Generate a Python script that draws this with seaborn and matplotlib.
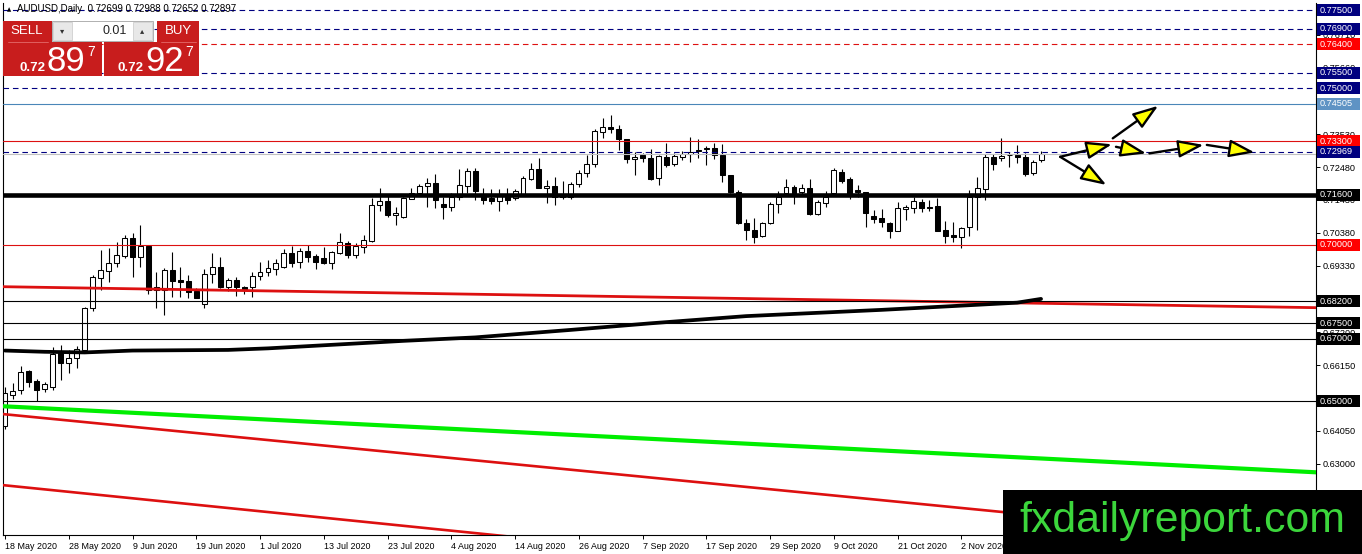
import numpy as np
import pandas as pd
import matplotlib
matplotlib.use("Agg")
import matplotlib.pyplot as plt
import matplotlib.transforms as mtransforms
from matplotlib.patches import Rectangle
import seaborn as sns

W, H = 1362, 554

# AUDUSD daily candles, 18 May 2020 .. 16 Nov 2020
opens = [0.6422, 0.6521, 0.6536, 0.6596, 0.6564, 0.6539, 0.6546, 0.6655, 0.6623, 0.6639,
         0.6664, 0.6798, 0.6894, 0.6917, 0.6942, 0.6964, 0.7021, 0.6961, 0.6996, 0.6865,
         0.6856, 0.6920, 0.6888, 0.6885, 0.6853, 0.6811, 0.6907, 0.6929, 0.6865, 0.6888,
         0.6865, 0.6865, 0.6901, 0.6913, 0.6923, 0.6929, 0.6974, 0.6945, 0.6980, 0.6964,
         0.6958, 0.6942, 0.6973, 0.7005, 0.6967, 0.6993, 0.7012, 0.7127, 0.7140, 0.7096,
         0.7089, 0.7147, 0.7166, 0.7188, 0.7197, 0.7131, 0.7121, 0.7153, 0.7188, 0.7235,
         0.7159, 0.7150, 0.7140, 0.7156, 0.7150, 0.7162, 0.7210, 0.7242, 0.7181, 0.7188,
         0.7162, 0.7153, 0.7194, 0.7229, 0.7258, 0.7360, 0.7376, 0.7369, 0.7337, 0.7274,
         0.7286, 0.7277, 0.7213, 0.7280, 0.7258, 0.7280, 0.7290, 0.7302, 0.7306, 0.7309,
         0.7287, 0.7223, 0.7169, 0.7070, 0.7048, 0.7029, 0.7070, 0.7131, 0.7166, 0.7185,
         0.7169, 0.7181, 0.7099, 0.7134, 0.7166, 0.7232, 0.7210, 0.7175, 0.7169, 0.7092,
         0.7086, 0.7070, 0.7045, 0.7115, 0.7118, 0.7137, 0.7121, 0.7124, 0.7048, 0.7032,
         0.7026, 0.7058, 0.7153, 0.7178, 0.7280, 0.7277, 0.7286, 0.7286, 0.7280, 0.7229,
         0.72699]
highs = [0.6545, 0.6558, 0.6613, 0.6601, 0.6571, 0.6563, 0.6674, 0.6680, 0.6664, 0.6677,
         0.6802, 0.6904, 0.6983, 0.6989, 0.7009, 0.7031, 0.7037, 0.7063, 0.6998, 0.6913,
         0.6926, 0.6977, 0.6929, 0.6904, 0.6863, 0.6923, 0.6973, 0.6961, 0.6894, 0.6898,
         0.6869, 0.6913, 0.6945, 0.6951, 0.6953, 0.6986, 0.6996, 0.6989, 0.6999, 0.6970,
         0.6992, 0.6981, 0.7037, 0.7013, 0.7005, 0.7031, 0.7150, 0.7181, 0.7159, 0.7121,
         0.7154, 0.7181, 0.7194, 0.7213, 0.7226, 0.7153, 0.7165, 0.7242, 0.7245, 0.7245,
         0.7181, 0.7178, 0.7178, 0.7181, 0.7178, 0.7219, 0.7261, 0.7277, 0.7207, 0.7216,
         0.7203, 0.7200, 0.7239, 0.7286, 0.7369, 0.7404, 0.7414, 0.7382, 0.7337, 0.7296,
         0.7293, 0.7306, 0.7286, 0.7324, 0.7293, 0.7299, 0.7344, 0.7337, 0.7315, 0.7325,
         0.7322, 0.7223, 0.7175, 0.7083, 0.7086, 0.7074, 0.7137, 0.7172, 0.7210, 0.7191,
         0.7194, 0.7210, 0.7143, 0.7172, 0.7245, 0.7242, 0.7216, 0.7191, 0.7169, 0.7112,
         0.7115, 0.7074, 0.7137, 0.7127, 0.7153, 0.7146, 0.7143, 0.7150, 0.7077, 0.7074,
         0.7058, 0.7175, 0.7216, 0.7289, 0.7289, 0.7340, 0.7296, 0.7318, 0.7293, 0.7271,
         0.72988]
lows = [0.6412, 0.6507, 0.6523, 0.6546, 0.6501, 0.6529, 0.6536, 0.6569, 0.6591, 0.6607,
        0.6661, 0.6788, 0.6856, 0.6881, 0.6929, 0.6958, 0.6898, 0.6929, 0.6843, 0.6799,
        0.6776, 0.6834, 0.6833, 0.6830, 0.6829, 0.6798, 0.6878, 0.6862, 0.6853, 0.6837,
        0.6843, 0.6834, 0.6888, 0.6901, 0.6904, 0.6926, 0.6929, 0.6926, 0.6945, 0.6921,
        0.6938, 0.6923, 0.6970, 0.6958, 0.6958, 0.6973, 0.7009, 0.7108, 0.7090, 0.7064,
        0.7084, 0.7147, 0.7159, 0.7121, 0.7118, 0.7083, 0.7108, 0.7143, 0.7166, 0.7143,
        0.7131, 0.7131, 0.7108, 0.7131, 0.7143, 0.7159, 0.7207, 0.7181, 0.7134, 0.7127,
        0.7147, 0.7147, 0.7184, 0.7216, 0.7249, 0.7341, 0.7357, 0.7302, 0.7261, 0.7223,
        0.7264, 0.7207, 0.7191, 0.7248, 0.7251, 0.7271, 0.7264, 0.7277, 0.7255, 0.7274,
        0.7200, 0.7166, 0.7067, 0.7016, 0.7007, 0.7026, 0.7067, 0.7102, 0.7159, 0.7131,
        0.7159, 0.7096, 0.7096, 0.7121, 0.7163, 0.7197, 0.7147, 0.7153, 0.7058, 0.7070,
        0.7058, 0.7023, 0.7045, 0.7080, 0.7102, 0.7106, 0.7108, 0.7045, 0.7007, 0.7010,
        0.6990, 0.7029, 0.7048, 0.7143, 0.7239, 0.7268, 0.7248, 0.7261, 0.7219, 0.7223,
        0.72652]
closes = [0.6527, 0.6533, 0.6593, 0.6561, 0.6536, 0.6554, 0.6652, 0.6623, 0.6639, 0.6667,
          0.6798, 0.6898, 0.6920, 0.6942, 0.6967, 0.7021, 0.6961, 0.6996, 0.6856, 0.6856,
          0.6920, 0.6885, 0.6882, 0.6850, 0.6831, 0.6907, 0.6929, 0.6865, 0.6888, 0.6865,
          0.6859, 0.6901, 0.6913, 0.6926, 0.6942, 0.6974, 0.6942, 0.6980, 0.6961, 0.6945,
          0.6942, 0.6977, 0.7009, 0.6967, 0.6996, 0.7015, 0.7127, 0.7140, 0.7096, 0.7103,
          0.7149, 0.7166, 0.7188, 0.7197, 0.7143, 0.7121, 0.7153, 0.7191, 0.7235, 0.7172,
          0.7143, 0.7140, 0.7156, 0.7143, 0.7172, 0.7213, 0.7242, 0.7181, 0.7188, 0.7153,
          0.7153, 0.7194, 0.7229, 0.7258, 0.7363, 0.7376, 0.7369, 0.7337, 0.7274, 0.7280,
          0.7277, 0.7210, 0.7283, 0.7255, 0.7283, 0.7290, 0.7296, 0.7299, 0.7309, 0.7287,
          0.7223, 0.7169, 0.7070, 0.7048, 0.7026, 0.7070, 0.7131, 0.7153, 0.7185, 0.7156,
          0.7181, 0.7099, 0.7137, 0.7153, 0.7239, 0.7204, 0.7162, 0.7169, 0.7102, 0.7083,
          0.7074, 0.7045, 0.7118, 0.7121, 0.7140, 0.7118, 0.7118, 0.7045, 0.7029, 0.7026,
          0.7054, 0.7153, 0.7181, 0.7280, 0.7258, 0.7283, 0.7287, 0.7280, 0.7226, 0.7264,
          0.72897]

date_labels = ["18 May 2020", "28 May 2020", "9 Jun 2020", "19 Jun 2020", "1 Jul 2020",
               "13 Jul 2020", "23 Jul 2020", "4 Aug 2020", "14 Aug 2020", "26 Aug 2020",
               "7 Sep 2020", "17 Sep 2020", "29 Sep 2020", "9 Oct 2020", "21 Oct 2020",
               "2 Nov 2020"]
date_step = 8

# moving average (black curve), sampled at bars
ma_bars = [0, 5, 10, 16, 28, 33, 50, 59, 71, 81, 93, 110, 127, 130]
ma_values = [0.6662, 0.6658, 0.6656, 0.6662, 0.6664, 0.6669, 0.6693, 0.6704,
             0.6728, 0.6749, 0.6772, 0.6792, 0.6815, 0.6827]

# horizontal levels
level_prices = [0.7750, 0.7690, 0.7640, 0.7550, 0.7500, 0.74505, 0.7330, 0.72969,
                0.7160, 0.7000, 0.6820, 0.6750, 0.6700, 0.6500]
bid_price = 0.72897

# scale ticks that are not fully hidden behind the level labels
ytick_values = [0.7671, 0.7566, 0.7353, 0.7248, 0.7143, 0.7038, 0.6933,
                0.6720, 0.6615, 0.6405, 0.6300]

# trend lines: (bar at left edge, bar at right edge), (price, price)
trend_bars = [-0.25, 164.5]
trend_red_upper = [0.6866, 0.6799]
trend_green = [0.6484, 0.6273]
trend_red_low1 = [0.6459, 0.6048]
trend_red_low2 = [0.6232, 0.5806]

# drawn arrows (bar, price)
arrow_start = [(132.4, 0.7281), (132.4, 0.7281), (139.0, 0.7340),
               (139.4, 0.7313), (143.6, 0.7292), (150.8, 0.7319)]
arrow_end = [(138.9, 0.7321), (138.2, 0.7191), (144.7, 0.7444),
             (143.2, 0.7292), (150.4, 0.7319), (156.8, 0.7295)]

# styles for the levels
NAVY, RED, STEEL, BLACK = "#000080", "#dd1111", "#4a86b8", "#000000"
level_colors = [NAVY, NAVY, RED, NAVY, NAVY, STEEL, RED, NAVY, BLACK, RED, BLACK, BLACK, BLACK, BLACK]
level_dashed = [True, True, True, True, True, False, False, True, False, False, False, False, False, False]
level_widths = [0.8, 0.8, 0.8, 0.8, 0.8, 0.8, 0.8, 0.8, 3.3, 0.8, 0.8, 0.8, 0.8, 0.8]
box_colors = ["#00007f", "#00007f", "#ff0000", "#00007f", "#00007f", "#5f93c4", "#ff0000",
              "#00007f", "#000000", "#ff0000", "#000000", "#000000", "#000000", "#000000"]

sns.set_style("white")
plt.rcParams["font.family"] = ["Liberation Sans", "DejaVu Sans"]

fig = plt.figure(figsize=(W / 100, H / 100), dpi=100)
ax = fig.add_axes([3 / W, 1 - 535 / H, 1313 / W, 532 / H])
ax.set_xlim(-0.25, 164.5)
ax.set_ylim(0.60727, 0.77724)

# candles
df = pd.DataFrame({"open": opens, "high": highs, "low": lows, "close": closes})
df["bar"] = np.arange(len(df))
df["bot"] = df[["open", "close"]].min(axis=1)
df["body"] = (df["close"] - df["open"]).abs().clip(lower=0.00008)
bull = df["close"] >= df["open"]
ax.vlines(df["bar"], df["low"], df["high"], color="black", lw=0.8, zorder=2)
ax.bar(df["bar"][bull], df["body"][bull], bottom=df["bot"][bull], width=0.62,
       facecolor="white", edgecolor="black", lw=0.75, zorder=2.1)
ax.bar(df["bar"][~bull], df["body"][~bull], bottom=df["bot"][~bull], width=0.62,
       facecolor="black", edgecolor="black", lw=0.75, zorder=2.1)

# trend lines
ax.plot(trend_bars, trend_red_upper, color="#dd1010", lw=2.0, zorder=3)
ax.plot(trend_bars, trend_green, color="#00ee00", lw=3.0, zorder=3)
ax.plot(trend_bars, trend_red_low1, color="#dd1010", lw=1.9, zorder=3)
ax.plot(trend_bars, trend_red_low2, color="#dd1010", lw=1.9, zorder=3)

# moving average
sns.lineplot(x=ma_bars, y=ma_values, ax=ax, color="black", lw=2.7, zorder=4)

# horizontal levels
for p, c, d, w in zip(level_prices, level_colors, level_dashed, level_widths):
    ax.axhline(p, color=c, lw=w, ls=(0, (5, 3.5)) if d else "-", zorder=3.5)
ax.axhline(bid_price, color="#c0c0c0", lw=0.8, zorder=3.4)

# arrows
for (x0, y0), (x1, y1) in zip(arrow_start, arrow_end):
    ax.annotate("", xy=(x1, y1), xytext=(x0, y0), zorder=6,
                arrowprops=dict(arrowstyle="-|>,head_length=1.3,head_width=0.45",
                                mutation_scale=12, fc="#ffff00", ec="black", lw=1.7,
                                shrinkA=0, shrinkB=0))

# axes frame
for s in ["left", "right", "bottom"]:
    ax.spines[s].set_visible(True)
    ax.spines[s].set_color("black")
    ax.spines[s].set_linewidth(0.8)
ax.spines["top"].set_visible(False)

ax.yaxis.tick_right()
ax.set_yticks(ytick_values)
ax.set_yticklabels(["%.5f" % v for v in ytick_values])
ax.tick_params(axis="y", direction="out", length=3, width=0.7, pad=2, labelsize=6.6,
               colors="black", right=True, left=False)
ax.set_xticks(np.arange(len(date_labels)) * date_step)
ax.set_xticklabels(date_labels, ha="left")
ax.tick_params(axis="x", direction="out", length=3, width=0.7, pad=2, labelsize=6.4,
               colors="black", bottom=True)
ax.set_xlabel("")
ax.set_ylabel("")

# price labels on the right scale
tr = mtransforms.blended_transform_factory(fig.transFigure, ax.transData)
box_h = 12 / 3130
for p, bc in zip(level_prices, box_colors):
    ax.add_patch(Rectangle((1317 / W, p - box_h / 2), 43 / W, box_h, transform=tr,
                           facecolor=bc, edgecolor="none", clip_on=False, zorder=10))
    ax.text(1320 / W, p, "%.5f" % p, transform=tr, color="white", fontsize=6.6,
            va="center", ha="left", clip_on=False, zorder=11)

# overlay in pixel coordinates: trade panel, title, watermark
ov = fig.add_axes([0, 0, 1, 1])
ov.set_xlim(0, W)
ov.set_ylim(H, 0)
ov.axis("off")
ov.patch.set_alpha(0)

ov.text(7, 9.5, "\u25b2", fontsize=4, color="black", va="center", family=["DejaVu Sans"])
ov.text(17, 9.5, "AUDUSD,Daily  0.72699 0.72988 0.72652 0.72897", fontsize=7,
        color="black", va="center", ha="left")

RED_BTN = "#c81d1d"
ov.add_patch(Rectangle((3, 21), 49, 21, facecolor=RED_BTN, edgecolor="none"))
ov.add_patch(Rectangle((157, 21), 42, 21, facecolor=RED_BTN, edgecolor="none"))
ov.add_patch(Rectangle((3, 42), 99, 34, facecolor=RED_BTN, edgecolor="none"))
ov.add_patch(Rectangle((104, 42), 95, 34, facecolor=RED_BTN, edgecolor="none"))
ov.plot([8, 48], [41.5, 41.5], color="#e46a6a", lw=0.6)
ov.plot([161, 196], [41.5, 41.5], color="#e46a6a", lw=0.6)
ov.add_patch(Rectangle((52, 20.5), 101, 20, facecolor="white", edgecolor="#b0b0b0", lw=0.7))
ov.add_patch(Rectangle((53, 21.5), 19, 18, facecolor="#e8e8e8", edgecolor="#c8c8c8", lw=0.5))
ov.add_patch(Rectangle((133, 21.5), 19, 18, facecolor="#e8e8e8", edgecolor="#c8c8c8", lw=0.5))
ov.text(62.5, 31, "\u25be", fontsize=6, ha="center", va="center", color="#333333", family=["DejaVu Sans"])
ov.text(142.5, 31, "\u25b4", fontsize=6, ha="center", va="center", color="#333333", family=["DejaVu Sans"])
ov.text(127, 31, "0.01", fontsize=9, ha="right", va="center", color="#222222")
ov.text(27, 31.5, "SELL", fontsize=9.5, ha="center", va="center", color="white")
ov.text(178, 31.5, "BUY", fontsize=9.5, ha="center", va="center", color="white")

ov.text(19, 71, "0.72", fontsize=9.5, fontweight="bold", color="white", va="baseline")
ov.text(47, 71, "89", fontsize=25, color="white", va="baseline")
ov.text(87, 45, "7", fontsize=10, color="white", va="top")
ov.text(117, 71, "0.72", fontsize=9.5, fontweight="bold", color="white", va="baseline")
ov.text(145, 71, "92", fontsize=25, color="white", va="baseline")
ov.text(185, 45, "7", fontsize=10, color="white", va="top")

ov.add_patch(Rectangle((1003, 490), W - 1003, H - 490, facecolor="black", edgecolor="none", zorder=5))
ov.text(1019, 532, "fxdailyreport.com", fontsize=30.8, color="#3cd63c", va="baseline",
        ha="left", zorder=6)

fig.savefig("out.png", dpi=100)
plt.close(fig)
